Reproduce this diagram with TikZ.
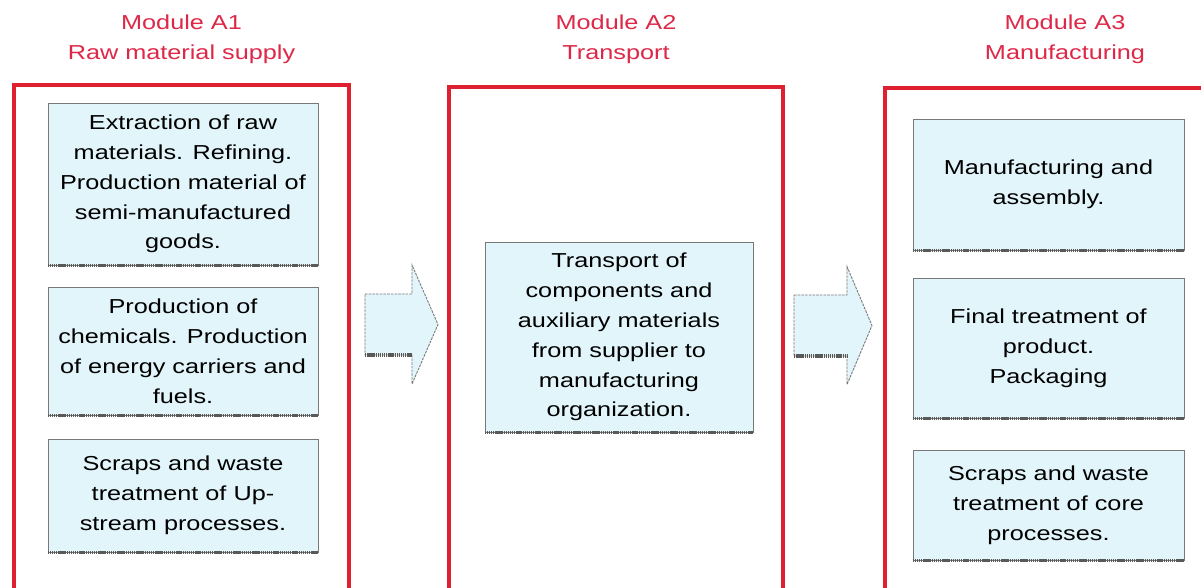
\documentclass[tikz,border=0pt]{standalone}
\usepackage{fontspec}
\usepackage{tikz}
\usepackage{xcolor}
\usetikzlibrary{positioning}
\newfontfamily\diagfont[FakeStretch=1.25]{Liberation Sans}
\definecolor{framered}{RGB}{222,32,48}
\definecolor{titlered}{RGB}{222,40,72}
\definecolor{boxfill}{RGB}{226,245,250}
\definecolor{boxline}{RGB}{120,120,120}
\tikzstyle{module} = [rectangle, draw=framered, line width=1.8pt, inner sep=0pt]
\tikzstyle{title}  = [align=center, text=titlered, font=\diagfont\fontsize{11.5}{17}\selectfont]
\tikzstyle{stage}  = [rectangle, draw=boxline, fill=boxfill, line width=0.5pt, align=center,
                      inner sep=0pt, font=\diagfont\fontsize{11.5}{17}\selectfont]
\tikzstyle{rim}    = [draw=black!65, line width=2pt, dash pattern=on 0.8pt off 0.4pt]
\tikzstyle{blockarrow} = [draw=boxline, fill=boxfill, line width=0.5pt, dash pattern=on 1.5pt off 0.6pt]

\begin{document}
\begin{tikzpicture}
    \clip (0,0) rectangle (24.02,-11.74);
    \fill[white] (0,0) rectangle (24.02,-11.74);

    % modules
    \node (a1) [module, minimum width=6.70cm, minimum height=10.5cm] at (3.63,-6.95) {};
    \node (a2) [module, minimum width=6.68cm, minimum height=10.46cm] at (12.32,-6.97) {};
    \node (a3) [module, minimum width=7.20cm, minimum height=10.44cm] at (21.30,-6.98) {};

    \node (ta1) [title] at (3.63,-0.78) {Module A1\\Raw material supply};
    \node (ta2) [title] at (12.32,-0.78) {Module A2\\Transport};
    \node (ta3) [title] at (21.30,-0.78) {Module A3\\Manufacturing};

    % A1 raw material supply
    \node (e1) [stage, minimum width=5.40cm, minimum height=3.24cm] at (3.66,-3.68)
        {Extraction of raw\\materials. Refining.\\Production material of\\semi-manufactured\\goods.};
    \node (e2) [stage, minimum width=5.40cm, minimum height=2.56cm] at (3.66,-7.02)
        {Production of\\chemicals. Production\\of energy carriers and\\fuels.};
    \node (e3) [stage, minimum width=5.40cm, minimum height=2.26cm] at (3.66,-9.91)
        {Scraps and waste\\treatment of Up-\\stream processes.};

    % A2 transport
    \node (t1) [stage, minimum width=5.36cm, minimum height=3.80cm] at (12.38,-6.74)
        {Transport of\\components and\\auxiliary materials\\from supplier to\\manufacturing\\organization.};

    % A3 manufacturing
    \node (m1) [stage, minimum width=5.42cm, minimum height=2.62cm] at (20.97,-3.69)
        {Manufacturing and\\assembly.};
    \node (m2) [stage, minimum width=5.42cm, minimum height=2.80cm] at (20.97,-6.96)
        {Final treatment of\\product.\\Packaging};
    \node (m3) [stage, minimum width=5.42cm, minimum height=2.20cm] at (20.97,-10.10)
        {Scraps and waste\\treatment of core\\processes.};

    \draw[rim] (e1.south west) -- (e1.south east);
    \draw[rim] (e2.south west) -- (e2.south east);
    \draw[rim] (e3.south west) -- (e3.south east);
    \draw[rim] (t1.south west) -- (t1.south east);
    \draw[rim] (m1.south west) -- (m1.south east);
    \draw[rim] (m2.south west) -- (m2.south east);
    \draw[rim] (m3.south west) -- (m3.south east);

    % block arrows between modules
    \coordinate (arr1) at (7.30,-6.49);
    \coordinate (arr2) at (15.88,-6.51);
    \draw[blockarrow] (arr1) ++(0,0.61) -- ++(0.94,0) -- ++(0,0.58) -- ++(0.52,-1.19)
        -- ++(-0.52,-1.19) -- ++(0,0.58) -- ++(-0.94,0) -- cycle;
    \draw[blockarrow] (arr2) ++(0,0.61) -- ++(1.06,0) -- ++(0,0.57) -- ++(0.50,-1.18)
        -- ++(-0.50,-1.18) -- ++(0,0.57) -- ++(-1.06,0) -- cycle;
    \draw[rim] (arr1) ++(0,-0.61) -- ++(0.94,0);
    \draw[rim] (arr2) ++(0,-0.61) -- ++(1.06,0);
\end{tikzpicture}
\end{document}
